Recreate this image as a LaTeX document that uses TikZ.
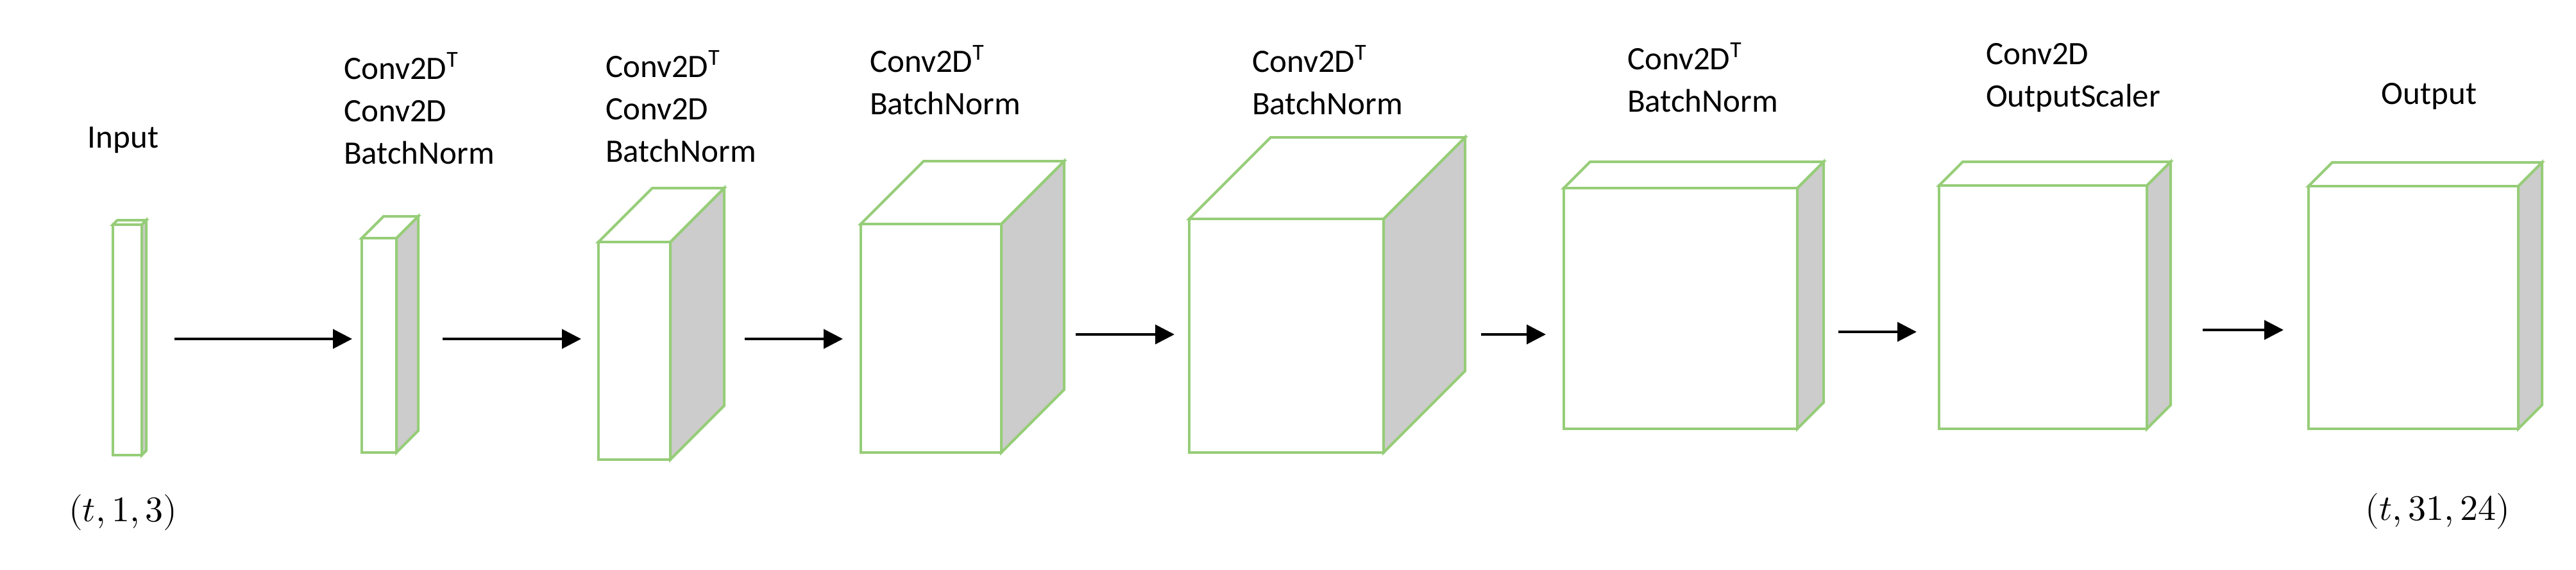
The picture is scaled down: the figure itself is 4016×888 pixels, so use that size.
\documentclass[tikz,border=0pt]{standalone}
\usepackage{fontspec}
\usepackage{unicode-math}
\setmainfont{Carlito}
\setmathfont{Latin Modern Math}
\usetikzlibrary{arrows.meta}
\definecolor{boxgreen}{RGB}{150,205,120}
\definecolor{sidegray}{RGB}{204,204,204}
\newcommand\mycuboid[6]{%
  \fill[sidegray,draw=boxgreen] (#4,#3) -- (#4+#6,#3-#6) -- (#4+#6,#5-#6) -- (#4,#5) -- cycle;
  \fill[white,draw=boxgreen] (#2,#3) -- (#2+#6,#3-#6) -- (#4+#6,#3-#6) -- (#4,#3) -- cycle;
  \node[face,minimum width={(#4-#2)*1pt},minimum height={(#5-#3)*1pt}] (#1) at ({(#2+#4)/2},{(#3+#5)/2}) {};
}
\begin{document}
\begin{tikzpicture}[x=1pt,y=-1pt,
  every path/.style={line width=4pt},
  face/.style={draw=boxgreen,fill=white,inner sep=0pt,outer sep=0pt,line width=4pt},
  lab/.style={font=\fontsize{51}{66}\selectfont,align=left,anchor=north west,inner sep=0pt},
  clab/.style={font=\fontsize{51}{66}\selectfont,anchor=center,inner sep=0pt},
  dim/.style={font=\fontsize{56}{60}\selectfont,anchor=center,inner sep=0pt},
  arr/.style={line width=4pt,-{Triangle[length=30pt,width=30pt]}}]
\useasboundingbox (0,0) rectangle (4016,888);
\mycuboid{b1}{176}{350}{221}{709}{7}
\mycuboid{b2}{564}{371}{618}{705}{34}
\mycuboid{b3}{933}{377}{1045}{716}{84}
\mycuboid{b4}{1342}{349}{1561}{705}{98}
\mycuboid{b5}{1854}{341}{2157}{705}{127}
\mycuboid{b6}{2438}{293}{2802}{668}{41}
\mycuboid{b7}{3023}{289}{3347}{668}{37}
\mycuboid{b8}{3599}{290}{3926}{668}{37}
\node[clab] (l1) at (192,218) {Input};
\node[lab] (l2) at (534,80) {Conv2D\textsuperscript{T}\\Conv2D\\BatchNorm};
\node[lab] (l3) at (942,77) {Conv2D\textsuperscript{T}\\Conv2D\\BatchNorm};
\node[lab] (l4) at (1354,69) {Conv2D\textsuperscript{T}\\BatchNorm};
\node[lab] (l5) at (1950,69) {Conv2D\textsuperscript{T}\\BatchNorm};
\node[lab] (l6) at (2535,65) {Conv2D\textsuperscript{T}\\BatchNorm};
\node[lab] (l7) at (3094,65) {Conv2D\\OutputScaler};
\node[clab] (l8) at (3787,150) {Output};
\node[dim] (d1) at (192,798) {$(t,1,3)$};
\node[dim] (d8) at (3800,796) {$(t,31,24)$};
\coordinate (a1s) at (272,528); \coordinate (a1e) at (549,528);
\coordinate (a2s) at (690,528); \coordinate (a2e) at (906,528);
\coordinate (a3s) at (1161,528); \coordinate (a3e) at (1314,528);
\coordinate (a4s) at (1677,521); \coordinate (a4e) at (1831,521);
\coordinate (a5s) at (2309,521); \coordinate (a5e) at (2410,521);
\coordinate (a6s) at (2866,517); \coordinate (a6e) at (2988,517);
\coordinate (a7s) at (3434,514); \coordinate (a7e) at (3560,514);
\foreach \i in {1,...,7} \draw[arr] (a\i s) -- (a\i e);
\end{tikzpicture}
\end{document}
